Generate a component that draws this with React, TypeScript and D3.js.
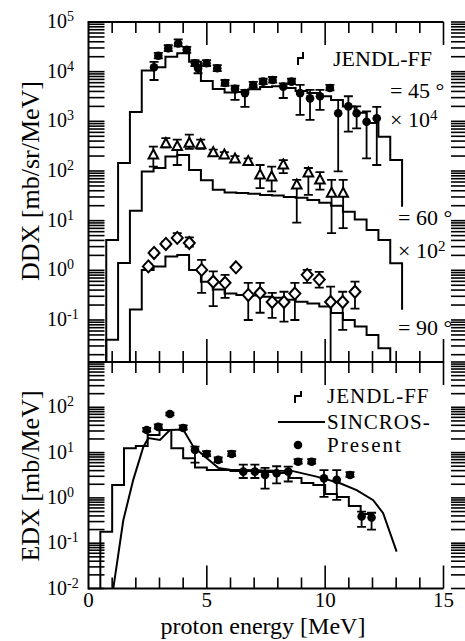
import React from "react";
import * as d3 from "d3";

// ---------------- data ----------------
const energyTickLabels = [0, 5, 10, 15];
const topExponents = [5, 4, 3, 2, 1, 0, -1];
const bottomExponents = [2, 1, 0, -1, -2];

// JENDL-FF DDX histograms (mb/sr/MeV), bin edges in MeV
const ddxEdges = [0.75, 1.25, 1.75, 2.25, 2.75, 3.25, 3.75, 4.25, 4.75, 5.25, 5.75, 6.25, 6.75, 7.25, 7.75, 8.25, 8.75, 9.25, 9.75, 10.25, 10.75, 11.25, 11.75, 12.25, 12.75, 13.25];
const jendl45 = [4.1e-4, 0.0145, 0.155, 1.05, 1.23, 2.0, 2.35, 1.58, 0.65, 0.45, 0.38, 0.39, 0.44, 0.49, 0.51, 0.47, 0.41, 0.37, 0.32, 0.27, 0.2, 0.148, 0.093, 0.049, 0.0166];
const jendl60 = [4.0e-4, 0.0141, 0.158, 0.98, 1.15, 1.95, 2.09, 1.05, 0.65, 0.42, 0.37, 0.36, 0.35, 0.33, 0.32, 0.3, 0.29, 0.26, 0.23, 0.2, 0.151, 0.105, 0.065, 0.041, 0.0138];
const jendl90 = [4.0e-4, 0.014, 0.162, 1.02, 1.2, 1.9, 2.04, 1.02, 0.59, 0.41, 0.34, 0.32, 0.31, 0.295, 0.28, 0.257, 0.234, 0.214, 0.186, 0.138, 0.1, 0.074, 0.05, 0.027, 0.0125];
const jendlTails = [0.0019, 0.0016, 0.0012];
const angleFactors = [1e4, 1e2, 1];

// Measured DDX, 45 deg
const exp45E = [2.77, 2.95, 3.37, 3.79, 4.15, 4.5, 4.63, 4.99, 5.44, 5.77, 6.19, 6.61, 6.96, 7.38, 7.78, 8.23, 8.58, 8.94, 9.36, 9.78, 10.2, 10.55, 10.98, 11.33, 11.75, 12.18];
const exp45V = [1.23, 2.09, 2.95, 3.7, 2.75, 1.48, 1.17, 1.48, 1.17, 0.59, 0.45, 0.37, 0.54, 0.63, 0.68, 0.5, 0.63, 0.37, 0.29, 0.32, 0.47, 0.145, 0.2, 0.145, 0.098, 0.115];
const exp45Lo = [0.68, 1.85, 2.6, 3.25, 2.4, 1.3, 0.93, 1.3, 1.03, 0.52, 0.27, 0.195, 0.48, 0.56, 0.6, 0.295, 0.56, 0.135, 0.107, 0.17, 0.42, 0.0098, 0.062, 0.072, 0.018, 0.0132];
const exp45Hi = [1.58, 2.4, 3.4, 4.47, 3.15, 1.7, 1.35, 1.7, 1.35, 0.68, 0.52, 0.43, 0.62, 0.72, 0.78, 0.58, 0.72, 0.54, 0.43, 0.43, 0.54, 0.27, 0.32, 0.2, 0.158, 0.195];

// Measured DDX, 60 deg
const exp60E = [2.74, 3.27, 3.75, 4.26, 4.74, 5.27, 5.74, 6.19, 6.75, 7.25, 7.74, 8.23, 8.8, 9.29, 9.78, 10.27, 10.76];
const exp60V = [2.09, 3.55, 3.1, 3.63, 3.39, 2.34, 2.09, 1.74, 1.55, 0.83, 0.76, 1.32, 0.52, 0.91, 0.66, 0.355, 0.355];
const exp60Lo = [1.23, 3.0, 1.32, 2.8, 2.8, 2.05, 1.85, 1.55, 1.35, 0.45, 0.39, 0.91, 0.091, 0.33, 0.42, 0.056, 0.071];
const exp60Hi = [3.1, 4.6, 4.3, 5.4, 4.3, 2.7, 2.4, 2.0, 1.8, 1.32, 1.23, 1.66, 0.66, 1.15, 0.95, 0.66, 0.66];

// Measured DDX, 90 deg
const exp90E = [2.53, 2.77, 3.27, 3.75, 4.26, 4.78, 5.27, 5.77, 6.23, 6.75, 7.25, 7.76, 8.26, 8.72, 9.24, 9.75, 10.23, 10.74, 11.26];
const exp90V = [1.2, 2.24, 3.4, 4.5, 3.55, 1.02, 0.59, 0.56, 1.15, 0.32, 0.35, 0.23, 0.23, 0.34, 0.81, 0.65, 0.23, 0.23, 0.37];
const exp90Lo = [1.1, 2.05, 3.1, 4.1, 3.0, 0.35, 0.19, 0.28, 1.15, 0.1, 0.14, 0.11, 0.093, 0.1, 0.56, 0.45, 0.005, 0.063, 0.17];
const exp90Hi = [1.3, 2.45, 3.8, 5.6, 4.6, 1.62, 0.95, 0.81, 1.15, 0.56, 0.56, 0.35, 0.37, 0.56, 1.02, 0.93, 0.47, 0.37, 0.59];

// EDX: JENDL-FF histogram (mb/MeV)
const edxEdges = [0.5, 1.0, 1.5, 2.0, 2.5, 3.0, 3.5, 4.0, 4.5, 5.0, 5.5, 6.0, 6.5, 7.0, 7.5, 8.0, 8.5, 9.0, 9.5, 10.0, 10.5, 11.0, 11.5, 12.0];
const jendlEdx = [0.18, 1.93, 12.4, 14, 24.5, 31.6, 12.4, 7.5, 4.7, 4.13, 4.13, 3.93, 3.93, 3.73, 3.73, 3.55, 2.75, 2.13, 1.93, 1.22, 1.05, 0.66, 0.44];
const jendlEdxTail = 0.3;

// EDX: SINCROS-II
const sincrosE = [1.05, 1.47, 1.89, 2.32, 2.53, 3.02, 3.44, 4.0, 4.43, 4.99, 5.48, 5.98, 8.64, 9.64, 10.63, 11.33, 12.03, 12.45, 13.02];
const sincrosV = [0.0102, 0.32, 2.5, 13.5, 20.9, 19.1, 31.6, 32.4, 13.5, 7.6, 4.6, 4.2, 3.9, 2.95, 2.1, 1.48, 0.89, 0.46, 0.065];

// EDX: present measurement
const expEdxE = [2.46, 2.95, 3.44, 4.0, 4.5, 4.99, 5.48, 6.05, 6.54, 7.03, 7.46, 7.95, 8.44, 8.86, 9.43, 9.95, 10.49, 11.05, 11.54, 11.96];
const expEdxV = [31.6, 37, 71, 35, 11.5, 9.3, 6.9, 9.3, 3.8, 3.8, 3.2, 3.5, 3.8, 6.3, 6.3, 2.7, 2.5, 3.2, 0.39, 0.37];
const expEdxLo = [29, 34, 66, 32, 6.0, 8.4, 6.2, 8.4, 2.75, 2.75, 1.6, 2.1, 2.3, 5.7, 5.7, 1.05, 0.9, 2.9, 0.23, 0.2];
const expEdxHi = [35, 42, 76, 40, 13.5, 10.8, 7.8, 10.8, 5.4, 5.4, 4.6, 5.0, 4.9, 7.2, 7.2, 4.1, 4.1, 3.7, 0.5, 0.47];

// ---------------- layout ----------------
const FONT = "'Liberation Serif', 'Times New Roman', serif";
const XL = 88.5, XR = 443.5;
const TOP_Y0 = 22, MID_Y = 362, BOT_Y = 588.5;

const x = d3.scaleLinear().domain([0, 15]).range([XL, XR]);
const yTop = d3.scaleLog().domain([Math.pow(10, -1.846), 1e5]).range([MID_Y, TOP_Y0]);
const yBot = d3.scaleLog().domain([0.01, 1000]).range([BOT_Y, MID_Y]);

function logTicks(scale: any) {
  const [lo, hi] = scale.domain();
  const out: { v: number; major: boolean }[] = [];
  for (let d = Math.floor(Math.log10(lo)); d <= Math.ceil(Math.log10(hi)); d++) {
    for (let k = 1; k <= 9; k++) {
      const v = k * Math.pow(10, d);
      if (v >= lo * 0.999 && v <= hi * 1.001) out.push({ v, major: k === 1 });
    }
  }
  return out;
}

function stepPath(edges: number[], vals: number[], tail: number | null, y: any, factor: number, yStart: number) {
  let p = `M${x(edges[0])},${yStart}`;
  vals.forEach((v, i) => {
    p += `V${y(v * factor)}H${x(edges[i + 1])}`;
  });
  if (tail !== null) p += `V${y(tail * factor)}`;
  return p;
}

const ErrBars = ({ es, lo, hi, y, factor }: any) => (
  <g stroke="#000" strokeWidth={1.8}>
    {es.map((e: number, i: number) => {
      const cx = x(e);
      const y1 = y(lo[i] * factor), y2 = y(hi[i] * factor);
      return (
        <g key={i}>
          <line x1={cx} x2={cx} y1={y1} y2={y2} />
          <line x1={cx - 4.5} x2={cx + 4.5} y1={y1} y2={y1} />
          <line x1={cx - 4.5} x2={cx + 4.5} y1={y2} y2={y2} />
        </g>
      );
    })}
  </g>
);

function triPath(cx: number, cy: number) {
  return `M${cx},${cy - 5.5}L${cx + 4.8},${cy + 3.5}L${cx - 4.8},${cy + 3.5}Z`;
}
function diaPath(cx: number, cy: number) {
  return `M${cx},${cy - 6}L${cx + 5.5},${cy}L${cx},${cy + 6}L${cx - 5.5},${cy}Z`;
}

const Pow = ({ xx, yy, base, exp, size = 20, sup = 14, anchor = "start" }: any) => (
  <text x={xx} y={yy} fontSize={size} fontFamily={FONT} textAnchor={anchor}>
    {base}
    <tspan dy={-7} fontSize={sup}>{exp}</tspan>
  </text>
);

export default function App() {
  const topTicks = logTicks(yTop);
  const botTicks = logTicks(yBot);
  const xMinor = d3.range(1, 16);

  const jendlSets = [jendl45, jendl60, jendl90];

  return (
    <svg width={465} height={641} style={{ position: "absolute", left: 0, top: 0, background: "#fff" }}>
      <defs>
        <clipPath id="clipTop">
          <rect x={XL} y={TOP_Y0} width={XR - XL + 20} height={MID_Y - TOP_Y0} />
        </clipPath>
        <clipPath id="clipBot">
          <rect x={XL} y={MID_Y} width={XR - XL + 20} height={BOT_Y - MID_Y} />
        </clipPath>
      </defs>
      <rect x={0} y={0} width={465} height={641} fill="#fff" />

      {/* ---------- top panel curves ---------- */}
      <g clipPath="url(#clipTop)" fill="none" stroke="#000" strokeWidth={2}>
        {jendlSets.map((vals, i) => (
          <path key={i} d={stepPath(ddxEdges, vals, jendlTails[i], yTop, angleFactors[i], MID_Y + 5)} />
        ))}
      </g>
      <g clipPath="url(#clipTop)">
        <ErrBars es={exp45E} lo={exp45Lo} hi={exp45Hi} y={yTop} factor={angleFactors[0]} />
        {exp45E.map((e, i) => (
          <circle key={i} cx={x(e)} cy={yTop(exp45V[i] * angleFactors[0])} r={4.3} fill="#000" />
        ))}
        <ErrBars es={exp60E} lo={exp60Lo} hi={exp60Hi} y={yTop} factor={angleFactors[1]} />
        {exp60E.map((e, i) => (
          <path key={i} d={triPath(x(e), yTop(exp60V[i] * angleFactors[1]))} fill="#fff" stroke="#000" strokeWidth={2} />
        ))}
        <ErrBars es={exp90E} lo={exp90Lo} hi={exp90Hi} y={yTop} factor={angleFactors[2]} />
        {exp90E.map((e, i) => (
          <path key={i} d={diaPath(x(e), yTop(exp90V[i] * angleFactors[2]))} fill="#fff" stroke="#000" strokeWidth={2} />
        ))}
      </g>

      {/* ---------- bottom panel curves ---------- */}
      <g clipPath="url(#clipBot)" fill="none" stroke="#000" strokeWidth={2}>
        <path d={stepPath(edxEdges, jendlEdx, jendlEdxTail, yBot, 1, BOT_Y + 5)} />
        <path
          d={d3.line<number>().x((e) => x(e)).y((_, i) => yBot(sincrosV[i]))(sincrosE) || ""}
        />
      </g>
      <g clipPath="url(#clipBot)">
        <ErrBars es={expEdxE} lo={expEdxLo} hi={expEdxHi} y={yBot} factor={1} />
        {expEdxE.map((e, i) => (
          <circle key={i} cx={x(e)} cy={yBot(expEdxV[i])} r={4.3} fill="#000" />
        ))}
      </g>

      {/* ---------- frame and axes ---------- */}
      <g stroke="#000" strokeWidth={2} fill="none">
        <line x1={XL} x2={XL} y1={TOP_Y0 - 1} y2={BOT_Y + 1} />
        <line x1={XL} x2={XR} y1={TOP_Y0} y2={TOP_Y0} />
        <line x1={XL} x2={XR} y1={MID_Y} y2={MID_Y} />
        <line x1={XL} x2={XR} y1={BOT_Y} y2={BOT_Y} />
      </g>
      <g stroke="#000" strokeWidth={1.6}>
        {xMinor.map((e) => {
          const major = e % 5 === 0;
          const L = major ? 23 : 11;
          const xx = x(e);
          return (
            <g key={e}>
              <line x1={xx} x2={xx} y1={TOP_Y0} y2={TOP_Y0 + L} />
              <line x1={xx} x2={xx} y1={MID_Y - L} y2={MID_Y + L} />
              <line x1={xx} x2={xx} y1={BOT_Y} y2={BOT_Y - L} />
            </g>
          );
        })}
        {topTicks.map((t, i) => (
          <g key={"t" + i}>
            <line x1={XL} x2={XL + 16} y1={yTop(t.v)} y2={yTop(t.v)} />
            <line x1={451} x2={467} y1={yTop(t.v)} y2={yTop(t.v)} />
          </g>
        ))}
        {botTicks.map((t, i) => (
          <g key={"b" + i}>
            <line x1={XL} x2={XL + 16} y1={yBot(t.v)} y2={yBot(t.v)} />
            <line x1={451} x2={467} y1={yBot(t.v)} y2={yBot(t.v)} />
          </g>
        ))}
      </g>

      {/* y tick labels */}
      {topExponents.map((p) => (
        <Pow key={"tl" + p} xx={47} yy={yTop(Math.pow(10, p)) + 6} base="10" exp={String(p)} />
      ))}
      {bottomExponents.map((p) => (
        <Pow key={"bl" + p} xx={47} yy={yBot(Math.pow(10, p)) + 6} base="10" exp={String(p)} />
      ))}

      {/* x tick labels */}
      {energyTickLabels.map((e) => (
        <text key={e} x={x(e)} y={607} fontSize={21} fontFamily={FONT} textAnchor="middle">
          {e}
        </text>
      ))}

      {/* axis titles */}
      <text x={263} y={634} fontSize={24} fontFamily={FONT} textAnchor="middle">
        proton energy [MeV]
      </text>
      <text transform="translate(39,181) rotate(-90)" fontSize={26} fontFamily={FONT} textAnchor="middle">
        DDX [mb/sr/MeV]
      </text>
      <text transform="translate(39,476) rotate(-90)" fontSize={26} fontFamily={FONT} textAnchor="middle">
        EDX [mb/MeV]
      </text>

      {/* top panel annotations */}
      <path d="M298,65V58H303V52" fill="none" stroke="#000" strokeWidth={2} />
      <text x={333} y={66} fontSize={22} fontFamily={FONT}>JENDL-FF</text>
      <text x={390} y={98} fontSize={22} fontFamily={FONT}>= 45 °</text>
      <Pow xx={390} yy={127} base="× 10" exp="4" size={22} sup={15} />
      <text x={398} y={225} fontSize={22} fontFamily={FONT}>= 60 °</text>
      <Pow xx={398} yy={258} base="× 10" exp="2" size={22} sup={15} />
      <text x={398} y={335} fontSize={22} fontFamily={FONT}>= 90 °</text>

      {/* bottom panel legend */}
      <path d="M295,403V396H301V391" fill="none" stroke="#000" strokeWidth={2} />
      <text x={327} y={403} fontSize={21} fontFamily={FONT} letterSpacing={1}>JENDL-FF</text>
      <line x1={278} x2={325} y1={422} y2={422} stroke="#000" strokeWidth={2} />
      <text x={327} y={429} fontSize={21} fontFamily={FONT} letterSpacing={1}>SINCROS-</text>
      <circle cx={298} cy={445} r={4.3} fill="#000" />
      <text x={327} y={452} fontSize={21} fontFamily={FONT} letterSpacing={2}>Present</text>
    </svg>
  );
}
